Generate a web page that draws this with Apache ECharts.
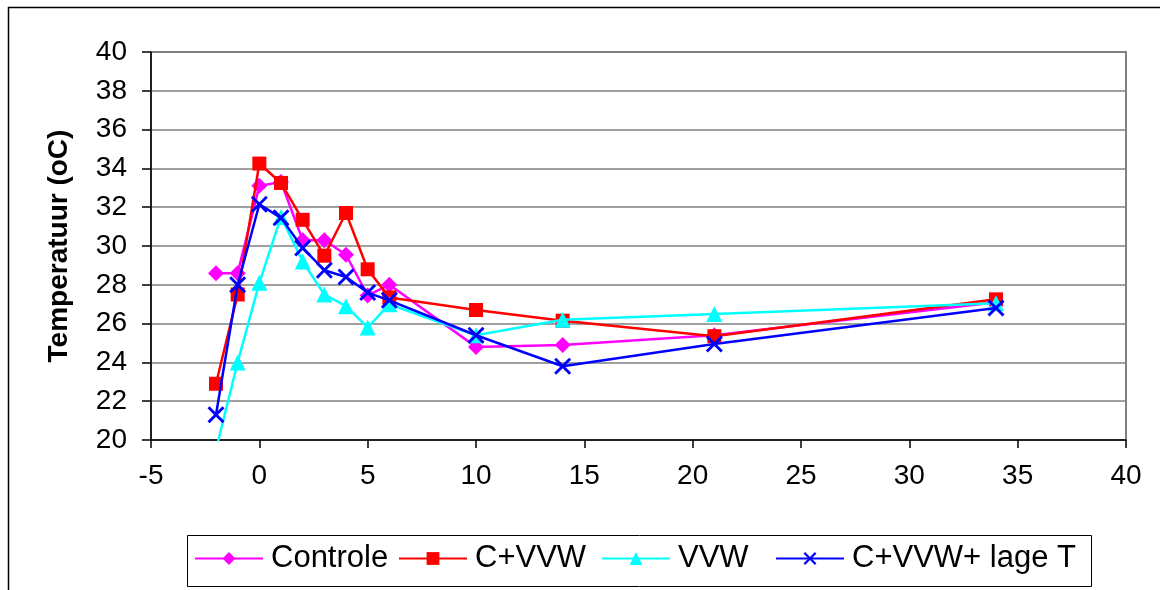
<!DOCTYPE html>
<html>
<head>
<meta charset="utf-8">
<script src="https://cdn.jsdelivr.net/npm/echarts@6/dist/echarts.min.js"></script>
<style>
  html, body { margin: 0; padding: 0; background: #fff; }
  #chart { width: 1160px; height: 590px; }
</style>
</head>
<body>
<div id="chart"></div>
<script>
// Days relative to the start (x) and measured temperature (oC)
const days = [-2, -1, 0, 1, 2, 3, 4, 5, 6, 10, 14, 21, 34];

const controle   = [28.6, 28.6, 33.1, 33.3, 30.3, 30.3, 29.55, 27.45, 28.0, 24.8, 24.9, 25.4, 27.1];
const cVvw       = [22.9, 27.5, 34.25, 33.25, 31.35, 29.5, 31.7, 28.8, 27.35, 26.7, 26.15, 25.35, 27.25];
const vvw        = [19.5, 24.0, 28.1, 31.5, 29.2, 27.5, 26.9, 25.8, 27.0, 25.4, 26.2, 26.5, 27.05];
const cVvwLageT  = [21.3, 28.0, 32.15, 31.45, 29.9, 28.75, 28.4, 27.6, 27.2, 25.4, 23.8, 24.95, 26.8];

const seriesNames = ['Controle', 'C+VVW', 'VVW', 'C+VVW+ lage T'];
const xTicks = { min: -5, max: 40, interval: 5 };
const yTicks = { min: 20, max: 40, interval: 2 };

const pairs = arr => days.map((d, i) => [d, arr[i]]);

const crossPath = 'path://M0,1.2L1.2,0L5,3.8L8.8,0L10,1.2L6.2,5L10,8.8L8.8,10L5,6.2L1.2,10L0,8.8L3.8,5Z';

const styles = [
  { color: '#ff00ff', symbol: 'diamond', size: 16 },
  { color: '#ff0000', symbol: 'rect', size: 14 },
  { color: '#00ffff', symbol: 'triangle', size: 16 },
  { color: '#0000ff', symbol: crossPath, size: 17 }
];
const dataSets = [controle, cVvw, vvw, cVvwLageT];

// left edge of each legend entry inside the legend box
const legendLefts = [194, 398, 601, 775];

const chart = echarts.init(document.getElementById('chart'), null, { renderer: 'canvas' });

const font = 'Liberation Sans, Arial, sans-serif';

chart.setOption({
  animation: false,
  backgroundColor: '#fff',
  textStyle: { fontFamily: font },
  grid: {
    left: 151, top: 52, width: 975, height: 388,
    show: true, borderColor: '#808080', borderWidth: 2, backgroundColor: 'transparent'
  },
  xAxis: {
    type: 'value',
    min: xTicks.min, max: xTicks.max, interval: xTicks.interval,
    axisLine: { onZero: false, lineStyle: { color: '#000', width: 1.5 } },
    axisTick: { show: true, length: 8, lineStyle: { color: '#000', width: 1.5 } },
    axisLabel: { color: '#000', fontSize: 28, fontFamily: font, margin: 22 },
    splitLine: { show: false }
  },
  yAxis: {
    type: 'value',
    min: yTicks.min, max: yTicks.max, interval: yTicks.interval,
    name: 'Temperatuur (oC)',
    nameLocation: 'middle',
    nameRotate: 90,
    nameGap: 78,
    nameTextStyle: { color: '#000', fontSize: 28, fontWeight: 'bold', fontFamily: font },
    axisLine: { show: true, onZero: false, lineStyle: { color: '#000', width: 1.5 } },
    axisTick: { show: true, length: 9, lineStyle: { color: '#000', width: 1.5 } },
    axisLabel: { color: '#000', fontSize: 28, fontFamily: font, margin: 24 },
    splitLine: { show: true, lineStyle: { color: '#808080', width: 1.6 } }
  },
  legend: seriesNames.map((name, i) => ({
    left: legendLefts[i], top: 543,
    padding: 0,
    itemWidth: 68, itemHeight: 16,
    textStyle: { color: '#000', fontSize: 31, fontFamily: font, padding: [0, 0, 0, 3] },
    data: [name]
  })),
  graphic: [
    {
      type: 'rect', left: 6, top: 5, silent: true,
      shape: { width: 1300, height: 800 },
      style: { fill: 'none', stroke: '#000', lineWidth: 1.5 }
    },
    {
      type: 'rect', left: 185, top: 533, silent: true,
      shape: { width: 904, height: 51 },
      style: { fill: 'none', stroke: '#000', lineWidth: 1 }
    }
  ],
  series: seriesNames.map((name, i) => ({
    name,
    type: 'line',
    data: pairs(dataSets[i]),
    symbol: styles[i].symbol,
    symbolSize: styles[i].size,
    showAllSymbol: true,
    clip: true,
    lineStyle: { color: styles[i].color, width: 2.5 },
    itemStyle: { color: styles[i].color, borderWidth: 0 },
    emphasis: { disabled: true },
    z: 2 + i
  }))
});
</script>
</body>
</html>
